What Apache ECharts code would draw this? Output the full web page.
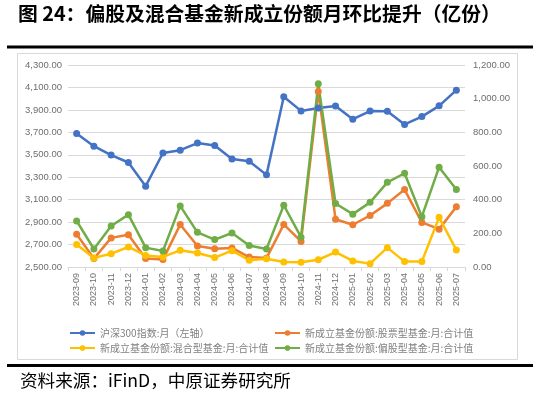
<!DOCTYPE html>
<html>
<head>
<meta charset="utf-8">
<script src="https://cdn.jsdelivr.net/npm/echarts/dist/echarts.min.js"></script>
<style>
  html, body { margin: 0; padding: 0; background: #fff; }
  #chart { width: 539px; height: 398px; }
</style>
</head>
<body>
<div id="chart"></div>
<script>
'use strict'

// 月份
const months = ['2023-09', '2023-10', '2023-11', '2023-12', '2024-01', '2024-02', '2024-03', '2024-04',
  '2024-05', '2024-06', '2024-07', '2024-08', '2024-09', '2024-10', '2024-11', '2024-12',
  '2025-01', '2025-02', '2025-03', '2025-04', '2025-05', '2025-06', '2025-07']

// 沪深300（左轴）
const csi300 = [3690, 3577, 3497, 3431, 3220, 3516, 3541, 3604, 3583, 3463, 3442, 3321,
  4017, 3891, 3916, 3935, 3817, 3890, 3888, 3770, 3840, 3936, 4076]
// 股票型
const stockFund = [194, 50, 173, 192, 50, 44, 252, 125, 109, 113, 59, 53,
  253, 152, 1043, 284, 251, 306, 378, 460, 265, 225, 358]
// 混合型
const mixedFund = [133, 54, 79, 119, 69, 60, 99, 83, 56, 97, 40, 49,
  30, 28, 43, 89, 36, 20, 115, 32, 32, 295, 101]
// 偏股型
const equityFund = [274, 107, 244, 311, 115, 95, 363, 206, 163, 202, 128, 107,
  367, 177, 1088, 377, 314, 384, 503, 557, 299, 593, 460]

const names = ['沪深300指数:月（左轴）', '新成立基金份额:股票型基金:月:合计值',
  '新成立基金份额:混合型基金:月:合计值', '新成立基金份额:偏股型基金:月:合计值']
const colors = ['#4472C4', '#ED7D31', '#FFC000', '#70AD47']

const cjk = '"Noto Sans CJK SC", sans-serif'
const num = '"Liberation Sans", Arial, sans-serif'
const fmt = v => v.toLocaleString('en-US', { minimumFractionDigits: 2, maximumFractionDigits: 2 })

function lineSeries(i, data, yIndex) {
  return {
    name: names[i],
    type: 'line',
    yAxisIndex: yIndex,
    data: data,
    symbol: 'circle',
    symbolSize: 7,
    color: colors[i],
    lineStyle: { width: 2.5 },
    animation: false
  }
}

const legendBase = {
  orient: 'vertical',
  top: 323,
  itemWidth: 25,
  itemHeight: 7,
  itemGap: 5,
  textStyle: { fontSize: 10, color: '#808080', fontFamily: cjk }
}

const chart = echarts.init(document.getElementById('chart'))
chart.setOption({
  backgroundColor: '#fff',
  animation: false,
  grid: { left: 68, right: 74, top: 65, bottom: 131 },
  legend: [
    Object.assign({ left: 64, data: [names[0], names[2]] }, legendBase),
    Object.assign({ left: 269, data: [names[1], names[3]] }, legendBase)
  ],
  xAxis: {
    type: 'category',
    data: months,
    axisLine: { lineStyle: { color: '#d9d9d9' } },
    axisTick: { show: true, length: 4, lineStyle: { color: '#d9d9d9' } },
    axisLabel: { rotate: 90, fontSize: 9, color: '#6e6e6e', fontFamily: num, margin: 6, interval: 0 }
  },
  yAxis: [
    {
      type: 'value', min: 2500, max: 4300, interval: 200,
      axisLine: { show: false }, axisTick: { show: false },
      splitLine: { lineStyle: { color: '#d9d9d9' } },
      axisLabel: { formatter: fmt, fontSize: 9.5, color: '#6e6e6e', fontFamily: num, margin: 6 }
    },
    {
      type: 'value', min: 0, max: 1200, interval: 200,
      axisLine: { show: false }, axisTick: { show: false },
      splitLine: { show: false },
      axisLabel: { formatter: fmt, fontSize: 9.5, color: '#6e6e6e', fontFamily: num, margin: 8 }
    }
  ],
  series: [
    lineSeries(0, csi300, 0),
    lineSeries(1, stockFund, 1),
    lineSeries(2, mixedFund, 1),
    lineSeries(3, equityFund, 1)
  ],
  graphic: [
    {
      type: 'text', left: 18, top: 4,
      style: { text: '图 24：偏股及混合基金新成立份额月环比提升（亿份）', font: 'bold 19.8px ' + cjk, fill: '#000' }
    },
    { type: 'rect', shape: { x: 7, y: 45.5, width: 526, height: 3 }, style: { fill: '#000' } },
    { type: 'rect', z: -1, shape: { x: 17.5, y: 53.5, width: 500, height: 306 }, style: { fill: 'none', stroke: '#d9d9d9', lineWidth: 1 } },
    { type: 'rect', shape: { x: 7, y: 364, width: 526, height: 3 }, style: { fill: '#000' } },
    {
      type: 'text', left: 20, top: 372,
      style: { text: '资料来源：iFinD，中原证券研究所', font: '17.6px ' + cjk, fill: '#000' }
    }
  ]
})
</script>
</body>
</html>
